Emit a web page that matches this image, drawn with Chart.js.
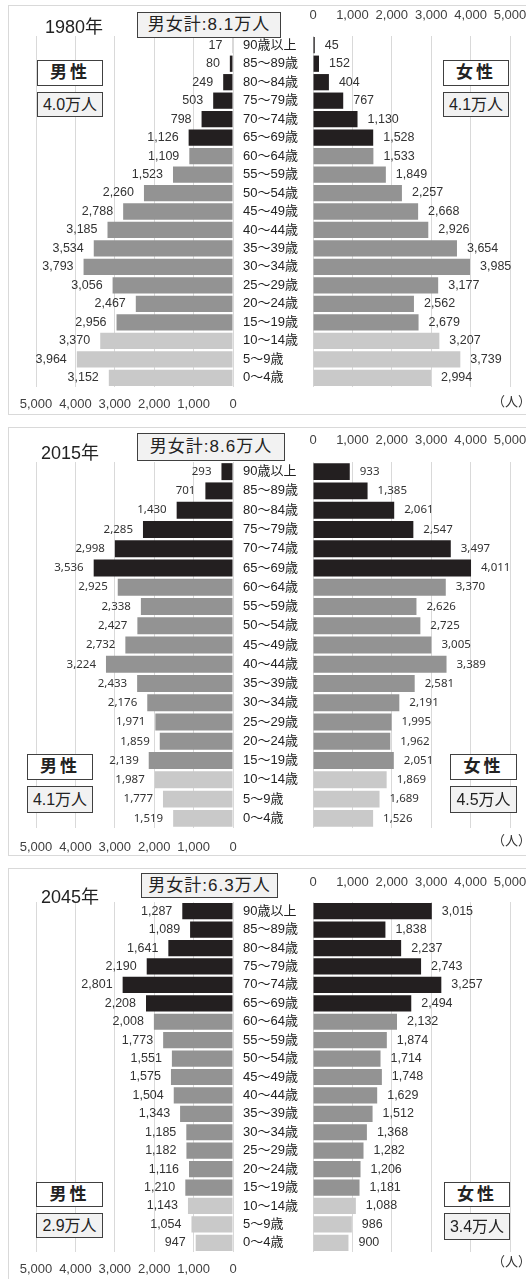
<!DOCTYPE html>
<html lang="ja">
<head>
<meta charset="UTF-8">
<title>人口ピラミッド 1980年・2015年・2045年</title>
<script src="https://cdn.jsdelivr.net/npm/chart.js@4.4.0/dist/chart.umd.min.js"></script>
<style>
  body { margin: 0; background: #fff; }
  #page { position: relative; width: 526px; height: 1279px; overflow: hidden;
          font-family: "Liberation Sans", "Noto Sans CJK JP", sans-serif; color: #222; }
  .panel { position: absolute; left: 8px; width: 560px; border: 1px solid #d9d9d9; box-sizing: border-box; }
  canvas { position: absolute; }
  .year { position: absolute; font-size: 18px; line-height: 20px; color: #222; }
  .box { position: absolute; box-sizing: border-box; border: 1px solid #404040; text-align: center;
         background: #f2f2f2; color: #222; white-space: nowrap; }
  .total { font-size: 17px; letter-spacing: 1px; }
  .sex { background: #fff; font-weight: bold; font-size: 17px; letter-spacing: 3px; }
  .sum { font-size: 16px; }
  .unit { position: absolute; font-size: 13px; line-height: 16px; color: #333; }
</style>
</head>
<body>
<div id="page">
  <div class="panel" style="top:5px;height:410px"></div>
  <div class="panel" style="top:427px;height:429px"></div>
  <div class="panel" style="top:868px;height:430px"></div>

  <canvas id="m1980"></canvas><canvas id="f1980"></canvas>
  <canvas id="m2015"></canvas><canvas id="f2015"></canvas>
  <canvas id="m2045"></canvas><canvas id="f2045"></canvas>

  <div class="year" style="left:45px;top:17px">1980年</div>
  <div class="box total" style="left:137px;top:12px;width:144px;height:26px;line-height:24px">男女計:8.1万人</div>
  <div class="box sex" style="left:37px;top:60px;width:66px;height:26px;line-height:24px">男性</div>
  <div class="box sum" style="left:37px;top:92px;width:66px;height:25px;line-height:23px">4.0万人</div>
  <div class="box sex" style="left:443px;top:60px;width:66px;height:26px;line-height:24px">女性</div>
  <div class="box sum" style="left:443px;top:92px;width:66px;height:25px;line-height:23px">4.1万人</div>
  <div class="unit" style="left:492px;top:394px">（人）</div>

  <div class="year" style="left:41px;top:443px">2015年</div>
  <div class="box total" style="left:137px;top:433px;width:148px;height:28px;line-height:26px">男女計:8.6万人</div>
  <div class="box sex" style="left:27px;top:754px;width:66px;height:26px;line-height:24px">男性</div>
  <div class="box sum" style="left:27px;top:786px;width:66px;height:27px;line-height:25px">4.1万人</div>
  <div class="box sex" style="left:450px;top:754px;width:67px;height:26px;line-height:24px">女性</div>
  <div class="box sum" style="left:450px;top:786px;width:67px;height:27px;line-height:25px">4.5万人</div>
  <div class="unit" style="left:492px;top:833px">（人）</div>

  <div class="year" style="left:41px;top:887px">2045年</div>
  <div class="box total" style="left:141px;top:873px;width:137px;height:25px;line-height:23px">男女計:6.3万人</div>
  <div class="box sex" style="left:36px;top:1182px;width:67px;height:25px;line-height:23px">男性</div>
  <div class="box sum" style="left:36px;top:1213px;width:67px;height:25px;line-height:23px">2.9万人</div>
  <div class="box sex" style="left:444px;top:1182px;width:66px;height:25px;line-height:23px">女性</div>
  <div class="box sum" style="left:444px;top:1213px;width:66px;height:27px;line-height:25px">3.4万人</div>
  <div class="unit" style="left:492px;top:1254px">（人）</div>
</div>

<script>
// age groups, oldest first
const ages = ['90歳以上', '85～89歳', '80～84歳', '75～79歳', '70～74歳', '65～69歳',
              '60～64歳', '55～59歳', '50～54歳', '45～49歳', '40～44歳', '35～39歳',
              '30～34歳', '25～29歳', '20～24歳', '15～19歳', '10～14歳', '5～9歳', '0～4歳'];
const axisTicks = [0, 1000, 2000, 3000, 4000, 5000];

const male1980 = [17, 80, 249, 503, 798, 1126, 1109, 1523, 2260, 2788, 3185, 3534, 3793, 3056, 2467, 2956, 3370, 3964, 3152];
const female1980 = [45, 152, 404, 767, 1130, 1528, 1533, 1849, 2257, 2668, 2926, 3654, 3985, 3177, 2562, 2679, 3207, 3739, 2994];

const male2015 = [293, 701, 1430, 2285, 2998, 3536, 2925, 2338, 2427, 2732, 3224, 2433, 2176, 1971, 1859, 2139, 1987, 1777, 1519];
const female2015 = [933, 1385, 2061, 2547, 3497, 4011, 3370, 2626, 2725, 3005, 3389, 2581, 2191, 1995, 1962, 2051, 1869, 1689, 1526];

const male2045 = [1287, 1089, 1641, 2190, 2801, 2208, 2008, 1773, 1551, 1575, 1504, 1343, 1185, 1182, 1116, 1210, 1143, 1054, 947];
const female2045 = [3015, 1838, 2237, 2743, 3257, 2494, 2132, 1874, 1714, 1748, 1629, 1512, 1368, 1282, 1206, 1181, 1088, 986, 900];

Chart.defaults.font.family = '"Liberation Sans", "Noto Sans CJK JP", sans-serif';

// 65+ black, 15-64 gray, 0-14 light gray
function ageColors() {
    return ages.map((a, i) => i < 6 ? '#231f20' : (i < 16 ? '#939393' : '#c9c9c9'));
}

const fmt = v => Number(v).toLocaleString('en-US');

// numbers at the end of each bar
const valueLabels = {
    id: 'valueLabels',
    afterDatasetsDraw(chart, args, opts) {
        const ctx = chart.ctx;
        const values = chart.data.datasets[0].data;
        ctx.save();
        ctx.font = opts.font;
        ctx.fillStyle = '#333';
        ctx.textBaseline = 'middle';
        ctx.textAlign = opts.left ? 'right' : 'left';
        chart.getDatasetMeta(0).data.forEach((bar, i) => {
            ctx.fillText(fmt(values[i]), opts.left ? bar.x - 10 : bar.x + 10, bar.y);
        });
        ctx.restore();
    }
};

// age group names in the middle column
const ageLabels = {
    id: 'ageLabels',
    afterDraw(chart) {
        const ctx = chart.ctx;
        const y = chart.scales.y;
        ctx.save();
        ctx.font = '13px "Liberation Sans", "Noto Sans CJK JP"';
        ctx.fillStyle = '#222';
        ctx.textAlign = 'left';
        ctx.textBaseline = 'middle';
        chart.data.labels.forEach((lab, i) => {
            ctx.fillText(lab, chart.chartArea.left - 70, y.getPixelForValue(i));
        });
        ctx.restore();
    }
};

function pyramidSide(id, values, p, left) {
    const canvas = document.getElementById(id);
    const plotH = p.bottom - p.top;
    const w = left ? 263 : 310;
    canvas.width = w;
    canvas.height = plotH + 80;
    canvas.style.left = (left ? 0 : 233) + 'px';
    canvas.style.top = (p.top - 40) + 'px';
    canvas.style.width = w + 'px';
    canvas.style.height = (plotH + 80) + 'px';

    return new Chart(canvas, {
        type: 'bar',
        data: {
            labels: ages,
            datasets: [{
                data: values,
                backgroundColor: ageColors(),
                barPercentage: 0.88,
                categoryPercentage: 1
            }]
        },
        options: {
            indexAxis: 'y',
            responsive: false,
            animation: false,
            devicePixelRatio: 1,
            layout: { padding: left ? { left: 36, right: 30, top: 40, bottom: 0 }
                                   : { left: 80, right: 33, top: 0, bottom: 40 } },
            plugins: {
                legend: { display: false },
                tooltip: { enabled: false },
                valueLabels: { left: left, font: p.labelFont }
            },
            scales: {
                x: {
                    type: 'linear',
                    position: left ? 'bottom' : 'top',
                    reverse: left,
                    min: axisTicks[0],
                    max: axisTicks[axisTicks.length - 1],
                    afterFit: s => { s.height = 40; },
                    afterBuildTicks: s => { s.ticks = axisTicks.map(v => ({ value: v })); },
                    grid: { color: '#d9d9d9', drawTicks: false },
                    border: { display: false },
                    ticks: {
                        autoSkip: false,
                        maxRotation: 0,
                        padding: left ? p.padBottom : p.padTop,
                        color: '#404040',
                        font: { size: 13 },
                        callback: v => fmt(v)
                    }
                },
                y: { display: false }
            }
        },
        plugins: left ? [valueLabels] : [valueLabels, ageLabels]
    });
}

window.addEventListener('load', setup);

function setup() {
    const panels = [
        { m: 'm1980', f: 'f1980', male: male1980, female: female1980, top: 36, bottom: 387,
          padTop: 13, padBottom: 10, labelFont: '12.5px "Liberation Sans"' },
        { m: 'm2015', f: 'f2015', male: male2015, female: female2015, top: 461.5, bottom: 827.5,
          padTop: 13.7, padBottom: 11.7, labelFont: '11.5px "Noto Sans"' },
        { m: 'm2045', f: 'f2045', male: male2045, female: female2045, top: 902, bottom: 1252,
          padTop: 12, padBottom: 10, labelFont: '12.5px "Liberation Sans"' }
    ];
    panels.forEach(p => {
        pyramidSide(p.m, p.male, p, true);
        pyramidSide(p.f, p.female, p, false);
    });
}
</script>
</body>
</html>
